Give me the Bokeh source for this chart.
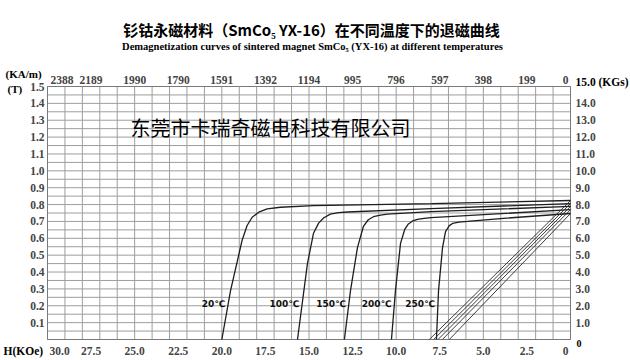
import numpy as np
from bokeh.plotting import figure
from bokeh.models import Range1d, Label, LabelSet, ColumnDataSource
from bokeh.core.properties import value
from bokeh.embed import file_html
from bokeh.resources import INLINE

# ---------------- data ----------------
TEMPS = ["20℃", "100℃", "150℃", "200℃", "250℃"]

# intrinsic demagnetization curves: H (kOe), B (T)
H_20 = [20.0, 19.5, 18.84, 18.55, 18.26, 17.88, 17.4, 16.64, 14.74, 8.0, 0.0]
B_20 = [0.0, 0.29, 0.587, 0.676, 0.725, 0.755, 0.775, 0.784, 0.794, 0.806, 0.824]
H_100 = [15.66, 15.09, 14.74, 14.45, 14.15, 13.77, 13.3, 12.8, 8.0, 0.0]
B_100 = [0.0, 0.45, 0.63, 0.69, 0.722, 0.743, 0.752, 0.756, 0.776, 0.806]
H_150 = [12.97, 12.62, 12.22, 11.88, 11.6, 11.3, 10.9, 10.5, 8.0, 0.0]
B_150 = [0.0, 0.29, 0.545, 0.67, 0.71, 0.728, 0.738, 0.743, 0.758, 0.789]
H_200 = [10.27, 10.04, 9.75, 9.5, 9.3, 9.05, 8.78, 8.4, 8.0, 0.0]
B_200 = [0.0, 0.29, 0.57, 0.655, 0.685, 0.703, 0.712, 0.718, 0.722, 0.77]
H_250 = [7.69, 7.57, 7.34, 7.17, 6.95, 6.77, 6.4, 5.91, 4.02, 0.0]
B_250 = [0.0, 0.29, 0.545, 0.64, 0.675, 0.688, 0.696, 0.70, 0.717, 0.747]

# normal (B-H) curves: straight lines from (0, Br) to (Hcb, 0)
NORMAL_BR = [0.824, 0.806, 0.789, 0.770, 0.747]
NORMAL_HCB = [8.10, 7.85, 7.60, 7.35, 6.95]

# tick labels
H_TICKS = [30.0, 27.5, 25.0, 22.5, 20.0, 17.5, 15.0, 12.5, 10.0, 7.5, 5.0, 2.5, 0.0]
H_LABELS = ["30.0", "27.5", "25.0", "22.5", "20.0", "17.5", "15.0", "12.5", "10.0", "7.5", "5.0", "2.5", "0"]
KAM_LABELS = ["2388", "2189", "1990", "1790", "1591", "1392", "1194", "995", "796", "597", "398", "199", "0"]
T_TICKS = [1.5, 1.4, 1.3, 1.2, 1.1, 1.0, 0.9, 0.8, 0.7, 0.6, 0.5, 0.4, 0.3, 0.2, 0.1]
T_LABELS = ["1.5", "1.4", "1.3", "1.2", "1.1", "1.0", "0.9", "0.8", "0.7", "0.6", "0.5", "0.4", "0.3", "0.2", "0.1"]
KGS_TICKS = [1.4, 1.3, 1.2, 1.1, 1.0, 0.9, 0.8, 0.7, 0.6, 0.5, 0.4, 0.3, 0.2, 0.1]
KGS_LABELS = ["14.0", "13.0", "12.0", "11.0", "10.0", "9.0", "8.0", "7.0", "6.0", "5.0", "4.0", "3.0", "2.0", "1.0"]

TITLE = "钐钴永磁材料（SmCo₅ YX-16）在不同温度下的退磁曲线"
SUBTITLE = "Demagnetization curves of sintered magnet SmCo₅ (YX-16) at different temperatures"
WATERMARK = "东莞市卡瑞奇磁电科技有限公司"

# ---------------- layout ----------------
W, HGT = 630, 360
PL, PR, PT, PB = 47, 570, 86, 339     # chart area in canvas pixels
KX = (PR - PL) / 30.0     # px per kOe
KY = (PB - PT) / 1.5      # px per T


def page(px, py):
    """canvas pixel position -> data coordinates"""
    return 30.0 - (px - PL) / KX, 1.5 + (PT - py) / KY


x0, y1 = page(0, 0)
x1, y0 = page(W, HGT)
p = figure(width=W, height=HGT, output_backend="svg", toolbar_location=None,
           x_range=Range1d(x0, x1), y_range=Range1d(y0, y1),
           x_axis_location=None, y_axis_location=None)
p.min_border = 0
p.outline_line_color = None
p.xgrid.visible = False
p.ygrid.visible = False
p.background_fill_color = "white"
p.border_fill_color = "white"

# grid of the chart area (1 kOe x 0.05 T)
GRID_C = "#9d9d9d"
vx = [float(v) for v in range(0, 31)]
hy = [round(0.05 * i, 2) for i in range(31)]
p.segment(x0=vx, x1=vx, y0=[0.0] * len(vx), y1=[1.5] * len(vx), line_color=GRID_C, line_width=1)
p.segment(x0=[30.0] * len(hy), x1=[0.0] * len(hy), y0=hy, y1=hy, line_color=GRID_C, line_width=1)
p.segment(x0=[30.0, 0.0, 30.0, 30.0], x1=[30.0, 0.0, 0.0, 0.0], y0=[0.0, 0.0, 0.0, 1.5],
          y1=[1.5, 1.5, 0.0, 1.5], line_color="#7a7a7a", line_width=1)

# curves
curves = [(H_20, B_20), (H_100, B_100), (H_150, B_150), (H_200, B_200), (H_250, B_250)]
for hh, bb in curves:
    p.line(hh, bb, line_color="#1e1e1e", line_width=1.3)
for br, hcb in zip(NORMAL_BR, NORMAL_HCB):
    p.line([0.0, hcb], [br, 0.0], line_color="#2a2a2a", line_width=0.9)

SERIF = "Liberation Serif"

# temperature labels, placed just left of each curve
lab_y = page(0, 303)[1]
tx = [float(np.interp(lab_y, bb, hh)) + 3.0 / KX for hh, bb in curves]
p.add_layout(LabelSet(source=ColumnDataSource(dict(x=tx, y=[lab_y] * 5, t=TEMPS)),
                      x="x", y="y", text="t", text_align="right", text_baseline="middle",
                      text_font=value("DejaVu Sans"), text_font_size=value("9px"),
                      text_font_style="bold", text_color="#111"))

# bottom H labels
ybot = page(0, 350)[1]
al = ["left"] + ["center"] * (len(H_TICKS) - 2) + ["right"]
xs = list(H_TICKS)
xs[0] = H_TICKS[0] - 2.0 / KX
xs[-1] = H_TICKS[-1] + 2.0 / KX
p.add_layout(LabelSet(source=ColumnDataSource(dict(x=xs, y=[ybot] * len(xs), t=H_LABELS, a=al)),
                      x="x", y="y", text="t", text_align="a", text_baseline="middle",
                      text_font=value(SERIF), text_font_size=value("11.5px"), text_font_style="bold"))
# top kA/m labels
ytop = page(0, 79)[1]
xs2 = list(H_TICKS)
xs2[0] = H_TICKS[0] - 3.0 / KX
xs2[-1] = H_TICKS[-1] + 2.0 / KX
p.add_layout(LabelSet(source=ColumnDataSource(dict(x=xs2, y=[ytop] * len(xs2), t=KAM_LABELS, a=al)),
                      x="x", y="y", text="t", text_align="a", text_baseline="middle",
                      text_font=value(SERIF), text_font_size=value("11.5px"), text_font_style="bold"))
# left T labels
p.add_layout(LabelSet(source=ColumnDataSource(dict(x=[30.0 + 3.0 / KX] * len(T_TICKS), y=T_TICKS, t=T_LABELS)),
                      x="x", y="y", text="t", text_align="right", text_baseline="middle",
                      text_font=value(SERIF), text_font_size=value("11.5px"), text_font_style="bold"))
# right kGs labels
p.add_layout(LabelSet(source=ColumnDataSource(dict(x=[-5.0 / KX] * len(KGS_TICKS), y=KGS_TICKS, t=KGS_LABELS)),
                      x="x", y="y", text="t", text_align="left", text_baseline="middle",
                      text_font=value(SERIF), text_font_size=value("11.5px"), text_font_style="bold"))


def label(txt, px, py, size, font=SERIF, align="left", style="bold", color="black"):
    x, y = page(px, py)
    p.add_layout(Label(x=x, y=y, text=txt, text_align=align, text_baseline="middle",
                       text_font=font, text_font_size=size, text_font_style=style,
                       text_color=color))


label("(KA/m)", 5, 73, "11px")
label("(T)", 7, 88, "11px")
label("H(KOe)", 3, 350, "11.5px")
label("15.0 (KGs)", 575, 81, "11.5px")
label("0", 576, 343, "10px")
label(TITLE, 311, 29, "15px", font="Noto Sans CJK SC", align="center")
label(SUBTITLE, 312, 46, "10.5px", align="center")
label(WATERMARK, 270, 127, "20px", font="Noto Sans CJK SC", align="center", style="normal")

open("out.html", "w").write(file_html(p, INLINE))
